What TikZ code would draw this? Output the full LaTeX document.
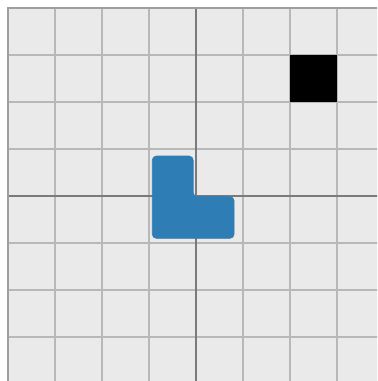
\documentclass[tikz,border=0pt]{standalone}
\usepackage{xcolor}
\usepackage{tikz}

\definecolor{panelbg}{HTML}{EAEAEA}
\definecolor{gridgray}{HTML}{B8B8B8}
\definecolor{axisgray}{HTML}{7A7A7A}
\definecolor{pieceblue}{HTML}{2E7DB5}

\begin{document}
\begin{tikzpicture}[
      gridline/.style={gridgray, line width=0.65pt},
      axisline/.style={axisgray, line width=0.65pt},
      piece/.style={fill=pieceblue, draw=pieceblue, rounded corners=2.5pt},
      goal/.style={fill=black}
    ]

    % Picture frame
    \useasboundingbox (-4.170,-3.936) rectangle (3.851,4.170);
    \clip (-4.170,-3.936) rectangle (3.851,4.170);

    % Board background and grid
    \fill[panelbg] (-4,-4) rectangle (4,4);
    \foreach \k in {-3,...,3} {
      \draw[gridline] (\k,-4) -- (\k,4);
      \draw[gridline] (-4,\k) -- (4,\k);
    }

    % Axes and border
    \draw[axisline] (0,-4) -- (0,4);
    \draw[axisline] (-4,0) -- (4,0);
    \draw[axisline, gray!75] (-4,-4) -- (-4,4) -- (4,4);

    % Target cell
    \fill[goal] (2,2) rectangle (3,3);

    % L-shaped piece
    \draw[piece] (-0.93,0.85) -- (-0.06,0.85) -- (-0.06,-0.015)
                 -- (0.81,-0.015) -- (0.81,-0.90) -- (-0.93,-0.90) -- cycle;

  \end{tikzpicture}
\end{document}
